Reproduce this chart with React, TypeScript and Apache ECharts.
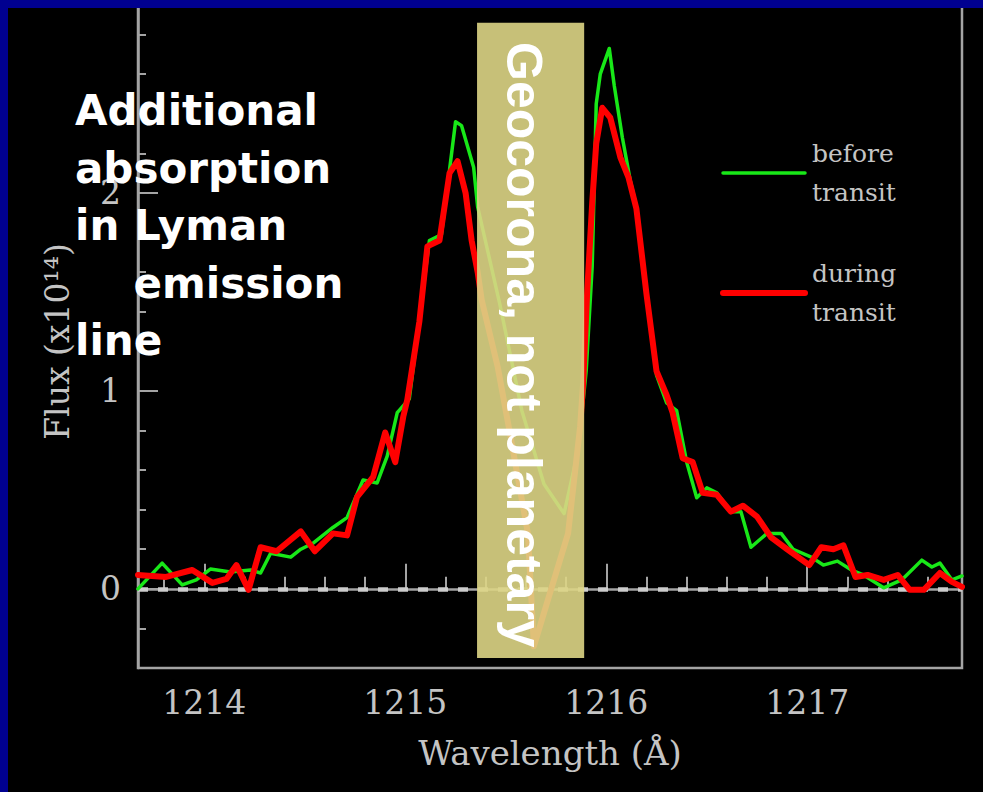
import React, { useEffect, useRef } from "react";
import * as echarts from "echarts";

// ---- data ----
const beforeWavelength = [
  1213.67, 1213.79, 1213.89, 1213.96, 1214.03, 1214.13, 1214.23, 1214.28, 1214.33, 1214.43,
  1214.48, 1214.54, 1214.64, 1214.71, 1214.79, 1214.86, 1214.91, 1214.96, 1215.02, 1215.07,
  1215.12, 1215.18, 1215.25, 1215.28, 1215.34, 1215.36, 1215.47, 1215.58, 1215.69, 1215.79,
  1215.86, 1215.9, 1215.93, 1215.95, 1215.97, 1216.015, 1216.04, 1216.08, 1216.12, 1216.15,
  1216.2, 1216.25, 1216.3, 1216.35, 1216.4, 1216.45, 1216.5, 1216.55, 1216.62, 1216.67,
  1216.72, 1216.8, 1216.87, 1216.93, 1217.02, 1217.08, 1217.15, 1217.22, 1217.28, 1217.38,
  1217.47, 1217.57, 1217.62, 1217.66, 1217.72, 1217.77,
];
const beforeFlux = [
  0.0, 0.13, 0.02, 0.045, 0.1, 0.085, 0.095, 0.08, 0.18, 0.16,
  0.2, 0.23, 0.31, 0.36, 0.55, 0.535, 0.67, 0.89, 0.96, 1.36,
  1.76, 1.79, 2.36, 2.34, 2.13, 1.93, 1.44, 0.9, 0.53, 0.38,
  0.7, 1.1, 1.63, 2.45, 2.6, 2.73, 2.54, 2.28, 2.06, 1.93,
  1.51, 1.08, 0.94, 0.9, 0.64, 0.46, 0.51, 0.485, 0.39, 0.39,
  0.21, 0.28, 0.28, 0.2, 0.16, 0.12, 0.14, 0.095, 0.07, 0.005,
  0.045, 0.145, 0.11, 0.13, 0.045, 0.065,
];
const duringWavelength = [
  1213.67, 1213.81, 1213.94, 1214.04, 1214.11, 1214.16, 1214.22, 1214.28, 1214.36, 1214.48,
  1214.55, 1214.64, 1214.71, 1214.76, 1214.84, 1214.9, 1214.95, 1214.99, 1215.01, 1215.07,
  1215.11, 1215.17, 1215.22, 1215.26, 1215.3, 1215.33, 1215.36, 1215.38, 1215.46, 1215.52,
  1215.61, 1215.64, 1215.71, 1215.81, 1215.87, 1215.885, 1215.905, 1215.93, 1215.95, 1215.98,
  1216.02, 1216.07, 1216.11, 1216.15, 1216.2, 1216.25, 1216.3, 1216.33, 1216.38, 1216.43,
  1216.48, 1216.55, 1216.62, 1216.68, 1216.75, 1216.82, 1216.9, 1217.01, 1217.07, 1217.13,
  1217.18, 1217.24, 1217.3, 1217.38, 1217.45, 1217.51, 1217.58, 1217.66, 1217.72, 1217.77,
];
const duringFlux = [
  0.07, 0.06, 0.095, 0.03, 0.05, 0.12, -0.005, 0.21, 0.19, 0.29,
  0.19, 0.28, 0.27, 0.465, 0.565, 0.79, 0.64, 0.87, 0.955, 1.35,
  1.73, 1.76, 2.1, 2.16, 2.0, 1.76, 1.6, 1.46, 1.12, 0.79,
  0.28, -0.29, -0.055, 0.28, 0.82, 1.04, 1.5, 1.95, 2.25, 2.43,
  2.38, 2.18, 2.08, 1.92, 1.49, 1.1, 0.98, 0.89, 0.66, 0.64,
  0.485, 0.475, 0.39, 0.42, 0.365, 0.26, 0.2, 0.12, 0.21, 0.2,
  0.22, 0.06, 0.07, 0.045, 0.07, -0.005, -0.005, 0.08, 0.035, 0.01,
];
const seriesNames = ["before transit", "during transit"];
const wavelengthRange = [1213.67, 1217.77];
const fluxRange = [-0.4, 3];
const geocoronaWavelength = [1215.357, 1215.89];
const geocoronaFlux = [-0.35, 2.86];
const annotationLines = ["Additional", "absorption", "in Lyman", "    emission", "line"];
const bandText = "Geocorona, not planetary";
const xAxisName = "Wavelength (Å)";
const yAxisName = "Flux (x10¹⁴)";

const GREY = "#c4c4c4";
const AXIS = "#a4a4a4";
const SERIF = "'DejaVu Serif', serif";

export default function App() {
  const ref = useRef<HTMLDivElement>(null);
  useEffect(() => {
    document.body.style.margin = "0";
    document.body.style.overflow = "hidden";
    const chart = echarts.init(ref.current!, null, { renderer: "svg" });
    const option: any = {
      animation: false,
      backgroundColor: "#000000",
      grid: {
        left: 138,
        right: 21,
        top: -5,
        bottom: 124,
        show: true,
        borderColor: AXIS,
        borderWidth: 2.5,
        backgroundColor: "transparent",
        containLabel: false,
        outerBoundsMode: "none",
      },
      legend: {
        orient: "vertical",
        left: 720,
        top: 134,
        padding: 0,
        itemGap: 42,
        itemWidth: 82,
        itemHeight: 1,
        selectedMode: false,
        itemStyle: { opacity: 0 },
        formatter: (n: string) => n.replace(" ", "\n"),
        textStyle: {
          color: GREY,
          fontFamily: SERIF,
          fontSize: 25,
          lineHeight: 39,
          padding: [0, 0, 0, 2],
        },
        data: [
          { name: seriesNames[0], lineStyle: { width: 3.5 } },
          { name: seriesNames[1], lineStyle: { width: 6 } },
        ],
      },
      xAxis: {
        type: "value",
        min: wavelengthRange[0],
        max: wavelengthRange[1],
        splitNumber: 4,
        minInterval: 1,
        maxInterval: 1,
        name: xAxisName,
        nameLocation: "middle",
        nameGap: 68,
        nameMoveOverlap: false,
        nameTextStyle: { color: GREY, fontFamily: SERIF, fontSize: 34 },
        axisLine: { lineStyle: { color: AXIS, width: 2.5 } },
        axisTick: { inside: true, length: 25, lineStyle: { color: AXIS, width: 2 } },
        minorTick: { show: true, splitNumber: 5, length: 12, lineStyle: { color: AXIS, width: 2 } },
        axisLabel: {
          color: GREY,
          fontFamily: SERIF,
          fontSize: 33,
          margin: 18,
          showMinLabel: false,
          showMaxLabel: false,
          formatter: (v: number) => String(Math.round(v)),
        },
        splitLine: { show: false },
      },
      yAxis: {
        type: "value",
        min: fluxRange[0],
        max: fluxRange[1],
        splitNumber: 3,
        minInterval: 1,
        maxInterval: 1,
        name: yAxisName,
        nameLocation: "middle",
        nameRotate: 90,
        nameGap: 64,
        nameMoveOverlap: false,
        nameTextStyle: { color: GREY, fontFamily: SERIF, fontSize: 33, padding: [0, 20, 0, 0] },
        axisLine: { lineStyle: { color: AXIS, width: 2.5 } },
        axisTick: { inside: true, length: 20, lineStyle: { color: AXIS, width: 2 } },
        minorTick: { show: true, splitNumber: 5, length: 8, lineStyle: { color: AXIS, width: 2 } },
        axisLabel: {
          color: GREY,
          fontFamily: SERIF,
          fontSize: 33,
          margin: 17,
          showMinLabel: false,
          formatter: (v: number) => String(Math.round(v)),
        },
        splitLine: { show: false },
      },
      series: [
        {
          name: seriesNames[0],
          type: "line",
          symbol: "none",
          z: 3,
          color: "#18e818",
          itemStyle: { color: "#18e818" },
          lineStyle: { color: "#18e818", width: 3.5, join: "round", cap: "round" },
          data: beforeWavelength.map((w, i) => [w, beforeFlux[i]]),
          markLine: {
            silent: true,
            z: 1,
            symbol: ["none", "none"],
            label: { show: false },
            lineStyle: { color: "#cccccc", width: 4.5, type: [10, 10], opacity: 1 },
            data: [{ yAxis: 0 }],
          },
        },
        {
          name: seriesNames[1],
          type: "line",
          symbol: "none",
          z: 4,
          color: "#ff0000",
          itemStyle: { color: "#ff0000" },
          lineStyle: { color: "#ff0000", width: 6, join: "round", cap: "round" },
          data: duringWavelength.map((w, i) => [w, duringFlux[i]]),
          markArea: {
            silent: true,
            z: 10,
            label: { show: false },
            itemStyle: { color: "#ddd585", opacity: 0.9 },
            data: [
              [
                { xAxis: geocoronaWavelength[0], yAxis: geocoronaFlux[0] },
                { xAxis: geocoronaWavelength[1], yAxis: geocoronaFlux[1] },
              ],
            ],
          },
        },
      ],
      graphic: [
        {
          type: "text",
          z: 50,
          x: 75,
          y: 82,
          style: {
            text: annotationLines.join("\n"),
            fill: "#ffffff",
            fontFamily: "'DejaVu Sans', sans-serif",
            fontWeight: "bold",
            fontSize: 42,
            lineHeight: 57.5,
            align: "left",
            verticalAlign: "top",
          },
        },
        {
          type: "text",
          z: 50,
          x: 524,
          y: 42,
          rotation: -Math.PI / 2,
          style: {
            text: bandText,
            fill: "#ffffff",
            fontFamily: "'Liberation Sans', Arial, sans-serif",
            fontWeight: "bold",
            fontSize: 50,
            align: "left",
            verticalAlign: "middle",
          },
        },
        { type: "rect", z: 100, shape: { x: 0, y: 0, width: 983, height: 8 }, style: { fill: "#000090" } },
        { type: "rect", z: 100, shape: { x: 0, y: 0, width: 8, height: 792 }, style: { fill: "#000090" } },
      ],
    };
    chart.setOption(option);
    return () => chart.dispose();
  }, []);
  return (
    <div
      ref={ref}
      style={{ position: "fixed", left: 0, top: 0, width: 983, height: 792 }}
    />
  );
}
